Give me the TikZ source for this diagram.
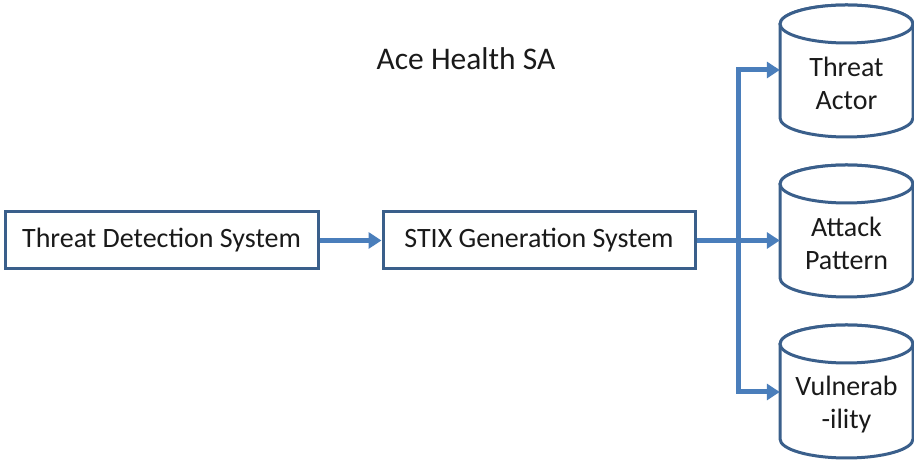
\documentclass[tikz,border=0pt]{standalone}
\usepackage{fontspec}
\setmainfont{Carlito}
\usetikzlibrary{arrows.meta}
\definecolor{boxline}{HTML}{3A5F8B}
\definecolor{flow}{HTML}{4A7EBB}
\definecolor{ink}{HTML}{1A1A1A}
\tikzset{
  sysbox/.style={draw=boxline, line width=3pt, fill=white, minimum width=313pt,
    minimum height=57pt, inner sep=0pt, font=\fontsize{28}{33}\selectfont, text=ink},
  storebody/.style={draw=boxline, line width=3pt, fill=white},
  storelabel/.style={align=center, inner sep=0pt, font=\fontsize{28}{33}\selectfont, text=ink},
  titletext/.style={inner sep=0pt, font=\fontsize{31.5}{36}\selectfont, text=ink},
  port/.style={inner sep=0pt, minimum width=133pt, minimum height=1pt},
  flowline/.style={draw=flow, line width=5pt},
  flowarrow/.style={flowline, -{Triangle[length=13pt,width=16pt]}},
}
% data store cylinder: #1 top edge, #2 bottom edge (left 780, right 913)
\newcommand\datastore[2]{%
  \draw[storebody] (780,#1-19) -- (780,#2+19)
    arc[start angle=180, end angle=360, x radius=66.5, y radius=19]
    -- (913,#1-19) arc[start angle=0, end angle=180, x radius=66.5, y radius=19] -- cycle;
  \draw[storebody] (846.5,#1-19) ellipse[x radius=66.5, y radius=19];
}
\begin{document}
\begin{tikzpicture}[x=1pt,y=1pt]
  \useasboundingbox (0,0) rectangle (914,462);

  \node[titletext] (title) at (466,403) {Ace Health SA};

  \node[sysbox] (tds) at (161.5,221.5) {Threat Detection System};
  \node[sysbox, minimum width=312pt] (stix) at (539,221.5) {STIX Generation System};

  % data stores
  \datastore{457}{325}
  \datastore{297}{165}
  \datastore{137}{4}
  \node[storelabel] (talabel) at (846.5,378.5) {Threat\\Actor};
  \node[storelabel] (aplabel) at (846.5,219) {Attack\\Pattern};
  \node[storelabel] (vulabel) at (846.5,57.5) {Vulnerab\\-ility};

  % attachment points on the store bodies
  \node[port] (ta) at (846.5,392) {};
  \node[port] (ap) at (846.5,221.5) {};
  \node[port] (vu) at (846.5,70) {};
  \coordinate (j) at (738,221.5);

  % flows
  \draw[flowarrow] (tds.east) -- (stix.west);
  \draw[flowarrow] (stix.east) -- (ap.west);
  \draw[flowarrow] (j) |- (ta.west);
  \draw[flowarrow] (j) |- (vu.west);
\end{tikzpicture}
\end{document}
